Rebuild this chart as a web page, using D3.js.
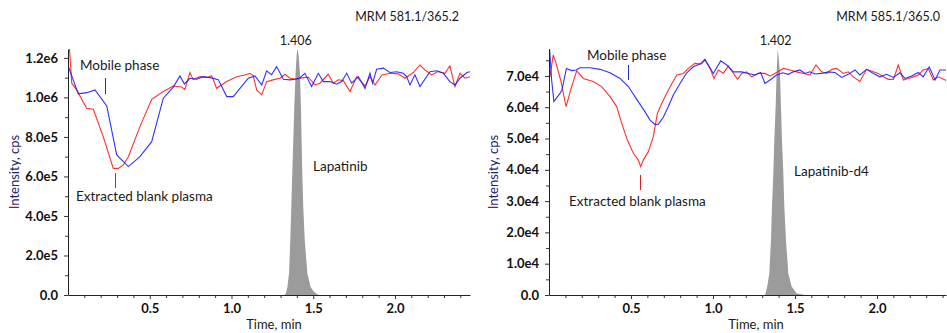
<!DOCTYPE html>
<html><head><meta charset="utf-8">
<script src="https://cdn.jsdelivr.net/npm/d3@7"></script>
<style>
body{margin:0;background:#fff;}
svg{display:block;font-family:Lato,"Open Sans",sans-serif;}
</style></head><body>
<script>
// ---------- Left panel: MRM 581.1/365.2 (Lapatinib) ----------
const leftPlasmaT = [0.005,0.023,0.053,0.114,0.155,0.216,0.277,0.308,0.338,0.369,0.44,0.512,0.583,0.644,0.695,0.715,0.746,0.766,0.807,0.848,0.879,0.909,0.971,1.032,1.08,1.113,1.133,1.154,1.185,1.215,1.26,1.297,1.327,1.358,1.399,1.44,1.47,1.511,1.541,1.592,1.623,1.653,1.684,1.725,1.766,1.817,1.847,1.878,1.92,1.969,2.02,2.061,2.112,2.153,2.183,2.224,2.265,2.306,2.336,2.367,2.398,2.428,2.459];
const leftPlasmaV = [1.30e6,1.072e6,1.038e6,0.945e6,0.94e6,0.80e6,0.641e6,0.641e6,0.658e6,0.70e6,0.852e6,0.99e6,1.03e6,1.058e6,1.053e6,1.04e6,1.126e6,1.09e6,1.105e6,1.10e6,1.11e6,1.046e6,1.08e6,1.105e6,1.113e6,1.122e6,1.11e6,1.038e6,1.013e6,1.08e6,1.09e6,1.097e6,1.117e6,1.097e6,1.092e6,1.10e6,1.102e6,1.063e6,1.072e6,1.117e6,1.072e6,1.089e6,1.085e6,1.03e6,1.105e6,1.058e6,1.105e6,1.063e6,1.114e6,1.122e6,1.119e6,1.097e6,1.126e6,1.164e6,1.139e6,1.114e6,1.131e6,1.122e6,1.16e6,1.055e6,1.122e6,1.097e6,1.105e6];
const leftMobileT = [0.005,0.032,0.063,0.114,0.165,0.237,0.298,0.369,0.44,0.512,0.583,0.644,0.685,0.712,0.746,0.787,0.828,0.869,0.919,0.971,1.011,1.052,1.103,1.144,1.185,1.215,1.245,1.276,1.317,1.358,1.388,1.419,1.449,1.49,1.531,1.562,1.602,1.643,1.674,1.705,1.735,1.776,1.817,1.847,1.863,1.888,1.929,1.969,2.01,2.051,2.071,2.092,2.122,2.153,2.214,2.255,2.296,2.336,2.367,2.398,2.44,2.459];
const leftMobileV = [1.15e6,1.089e6,1.018e6,1.024e6,1.038e6,0.957e6,0.709e6,0.65e6,0.70e6,0.776e6,0.996e6,1.052e6,1.109e6,1.068e6,1.097e6,1.092e6,1.105e6,1.10e6,1.09e6,1.004e6,1.004e6,1.046e6,1.097e6,1.109e6,1.063e6,1.134e6,1.115e6,1.156e6,1.092e6,1.089e6,1.092e6,1.10e6,1.122e6,1.055e6,1.122e6,1.08e6,1.08e6,1.067e6,1.08e6,1.122e6,1.072e6,1.105e6,1.046e6,1.122e6,1.072e6,1.143e6,1.148e6,1.126e6,1.13e6,1.122e6,1.105e6,1.063e6,1.114e6,1.055e6,1.13e6,1.135e6,1.122e6,1.08e6,1.063e6,1.097e6,1.126e6,1.13e6];
const leftPeakT = [1.325,1.334,1.342,1.352,1.360,1.366,1.372,1.378,1.384,1.392,1.399,1.405,1.412,1.419,1.425,1.429,1.433,1.439,1.448,1.464,1.484,1.50,1.521,1.535];
const leftPeakV = [0,0.01e6,0.04e6,0.11e6,0.28e6,0.45e6,0.62e6,0.78e6,0.95e6,1.12e6,1.22e6,1.25e6,1.20e6,1.12e6,0.95e6,0.78e6,0.62e6,0.45e6,0.28e6,0.11e6,0.04e6,0.02e6,0.005e6,0];
const leftYTicks = [0,2e5,4e5,6e5,8e5,1.0e6,1.2e6];
const leftYLabels = ["0.0","2.0e5","4.0e5","6.0e5","8.0e5","1.0e6","1.2e6"];

// ---------- Right panel: MRM 585.1/365.0 (Lapatinib-d4) ----------
const rightPlasmaT = [0.006,0.026,0.043,0.071,0.104,0.138,0.169,0.209,0.27,0.321,0.372,0.413,0.443,0.478,0.514,0.545,0.559,0.575,0.606,0.636,0.661,0.687,0.728,0.779,0.819,0.85,0.89,0.931,0.951,0.982,1.006,1.033,1.063,1.093,1.15,1.175,1.205,1.236,1.276,1.317,1.348,1.388,1.429,1.47,1.51,1.551,1.591,1.628,1.663,1.693,1.724,1.754,1.795,1.825,1.856,1.896,1.937,1.978,2.008,2.039,2.069,2.1,2.13,2.161,2.191,2.222,2.252,2.282,2.313,2.343,2.374,2.425];
const rightPlasmaV = [6.97e4,7.67e4,7.40e4,6.87e4,6.02e4,6.66e4,7.16e4,6.92e4,6.82e4,6.66e4,6.34e4,6.02e4,5.49e4,4.95e4,4.53e4,4.31e4,4.10e4,4.31e4,4.58e4,5.06e4,5.80e4,6.12e4,6.55e4,7.03e4,7.08e4,7.24e4,7.40e4,7.38e4,7.51e4,7.24e4,6.92e4,7.19e4,7.08e4,7.32e4,6.89e4,7.08e4,7.13e4,6.97e4,7.08e4,7.08e4,7.00e4,7.11e4,7.24e4,7.19e4,7.13e4,7.08e4,7.03e4,7.35e4,7.13e4,7.08e4,7.21e4,7.24e4,7.08e4,7.13e4,6.97e4,6.82e4,7.21e4,7.13e4,7.08e4,6.97e4,6.89e4,6.89e4,7.35e4,6.87e4,6.92e4,6.97e4,7.03e4,7.19e4,7.24e4,6.87e4,6.97e4,6.85e4];
const rightMobileT = [0.003,0.016,0.03,0.067,0.079,0.106,0.138,0.165,0.189,0.25,0.311,0.372,0.433,0.484,0.535,0.585,0.616,0.646,0.667,0.697,0.728,0.758,0.799,0.84,0.88,0.921,0.951,0.972,1.002,1.047,1.084,1.124,1.175,1.215,1.256,1.291,1.317,1.348,1.388,1.425,1.459,1.49,1.53,1.561,1.591,1.622,1.663,1.703,1.744,1.785,1.825,1.866,1.896,1.937,1.978,2.018,2.059,2.1,2.14,2.171,2.211,2.252,2.282,2.319,2.354,2.384,2.425];
const rightMobileV = [7.9e4,6.87e4,6.18e4,6.44e4,6.55e4,7.24e4,7.17e4,7.19e4,7.26e4,7.26e4,7.21e4,7.10e4,6.92e4,6.66e4,6.25e4,5.86e4,5.59e4,5.45e4,5.46e4,5.68e4,6.02e4,6.39e4,6.76e4,7.10e4,7.29e4,7.38e4,7.53e4,7.35e4,7.08e4,7.48e4,7.35e4,7.13e4,7.13e4,7.08e4,7.03e4,7.11e4,6.76e4,6.87e4,7.03e4,7.10e4,7.05e4,7.13e4,7.19e4,7.08e4,7.13e4,7.06e4,7.08e4,7.13e4,7.11e4,6.95e4,7.05e4,7.19e4,7.03e4,7.21e4,7.08e4,6.97e4,7.05e4,6.95e4,7.10e4,6.92e4,7.00e4,7.11e4,6.97e4,7.29e4,6.87e4,7.19e4,7.19e4];
const rightPeakT = [1.318,1.331,1.3435,1.3537,1.3598,1.3679,1.374,1.3821,1.3882,1.3943,1.4015,1.4085,1.4146,1.4207,1.4289,1.435,1.4451,1.4593,1.4797,1.51,1.54,1.56];
const rightPeakV = [0,0.27e4,0.69e4,1.76e4,2.82e4,3.89e4,4.95e4,6.02e4,7.08e4,7.86e4,7.55e4,7.08e4,6.02e4,4.95e4,3.89e4,2.82e4,1.76e4,0.69e4,0.27e4,0.05e4,0.02e4,0];
const rightYTicks = [0,1e4,2e4,3e4,4e4,5e4,6e4,7e4];
const rightYLabels = ["0.0","1.0e4","2.0e4","3.0e4","4.0e4","5.0e4","6.0e4","7.0e4"];

const xTicks = [0.5,1.0,1.5,2.0];
const xTickLabels = ["0.5","1.0","1.5","2.0"];
const xMinorTicks = [0.1,0.2,0.3,0.4,0.6,0.7,0.8,0.9,1.1,1.2,1.3,1.4,1.6,1.7,1.8,1.9,2.1,2.2,2.3,2.4];

const W = 947, H = 333;
const svg = d3.select("body").append("svg").attr("width", W).attr("height", H);
const TXT = "#1a1a1a";

function zip(a, b){ return a.map((d,i)=>[d,b[i]]); }

function panel(cfg){
  const top = 49, bottom = 295;
  const x = d3.scaleLinear().domain([0, cfg.xMax]).range([cfg.x0, cfg.x1]);
  const y = d3.scaleLinear().domain([0, cfg.yMax]).range([bottom, top]);
  const g = svg.append("g");
  const clipId = "clip" + cfg.id;
  svg.append("defs").append("clipPath").attr("id", clipId)
    .append("rect").attr("x", cfg.x0).attr("y", top).attr("width", cfg.x1 - cfg.x0).attr("height", bottom - top);
  const plot = g.append("g").attr("clip-path", `url(#${clipId})`);

  const peak = zip(cfg.peakT, cfg.peakV);
  plot.append("path").datum(peak)
    .attr("fill", "#9b9b9b")
    .attr("d", d3.area().x(d=>x(d[0])).y0(y(0)).y1(d=>y(d[1])));

  const line = d3.line().x(d=>x(d[0])).y(d=>y(d[1]));
  plot.append("path").datum(zip(cfg.plasmaT, cfg.plasmaV))
    .attr("fill","none").attr("stroke","#ff1a1a").attr("stroke-width",1.1).attr("stroke-opacity",0.9)
    .attr("d", line);
  plot.append("path").datum(zip(cfg.mobileT, cfg.mobileV))
    .attr("fill","none").attr("stroke","#1a1aff").attr("stroke-width",1.1).attr("stroke-opacity",0.9)
    .attr("d", line);

  // axes
  g.append("g").attr("transform", `translate(0,${bottom})`)
    .call(d3.axisBottom(x).tickValues(xTicks).tickFormat((d,i)=>xTickLabels[i]).tickSize(4).tickPadding(5).tickSizeOuter(0));
  g.append("g").attr("transform", `translate(0,${bottom})`)
    .call(d3.axisBottom(x).tickValues(xMinorTicks).tickFormat("").tickSize(3).tickSizeOuter(0))
    .select(".domain").remove();
  g.append("g").attr("transform", `translate(${cfg.x0},0)`)
    .call(d3.axisLeft(y).tickValues(cfg.yTicks).tickFormat((d,i)=>cfg.yLabels[i]).tickSize(4).tickPadding(6).tickSizeOuter(0));
  g.append("g").attr("transform", `translate(${cfg.x0},0)`)
    .call(d3.axisLeft(y).tickValues(cfg.yMinor).tickFormat("").tickSize(3).tickSizeOuter(0))
    .select(".domain").remove();
  g.selectAll(".domain").attr("stroke","#222");
  g.selectAll(".tick line").attr("stroke","#333");
  g.selectAll(".tick text").attr("font-family","Lato").attr("font-size",13).attr("font-weight","bold").attr("fill","#111");

  // titles
  g.append("text").attr("x", cfg.titleX).attr("y", 21).attr("text-anchor","end")
    .attr("font-size",12.5).attr("fill",TXT).text(cfg.title);
  // peak apex label
  const apex = peak.reduce((a,b)=>b[1]>a[1]?b:a);
  g.append("text").attr("x", x(apex[0]) - 2).attr("y", 45).attr("text-anchor","middle")
    .attr("font-size",12.5).attr("fill",TXT).text(cfg.peakLabel);
  // axis titles
  g.append("text").attr("x", cfg.xTitleX).attr("y", 329).attr("text-anchor","middle")
    .attr("font-size",13).attr("fill",TXT).text("Time, min");
  const yt = g.append("text").attr("transform", `translate(${cfg.yTitleX},172) rotate(-90)`)
    .attr("text-anchor","middle").attr("font-size",13).attr("fill","#1e1e6e");
  yt.append("tspan").attr("fill","#b01010").text("I");
  yt.append("tspan").text("ntensity, cps");

  // annotations
  cfg.notes.forEach(n=>{
    g.append("text").attr("x", n.x).attr("y", n.y).attr("font-size",13.5).attr("fill",TXT).text(n.text);
  });
  cfg.marks.forEach(m=>{
    g.append("line").attr("x1", m.x).attr("x2", m.x).attr("y1", m.y1).attr("y2", m.y2)
      .attr("stroke", m.color).attr("stroke-width",1);
  });
}

panel({
  id:"L", x0:68, x1:470, xMax:2.459, yMax:1.245e6,
  plasmaT:leftPlasmaT, plasmaV:leftPlasmaV, mobileT:leftMobileT, mobileV:leftMobileV,
  peakT:leftPeakT, peakV:leftPeakV, yTicks:leftYTicks, yLabels:leftYLabels,
  yMinor:[1e5,3e5,5e5,7e5,9e5,1.1e6],
  title:"MRM 581.1/365.2", titleX:459, peakLabel:"1.406", xTitleX:274, yTitleX:19,
  notes:[{x:80,y:70,text:"Mobile phase"},{x:76,y:201,text:"Extracted blank plasma"},{x:313,y:171,text:"Lapatinib"}],
  marks:[{x:105.5,y1:78,y2:94,color:"#2a2ad0"},{x:115.5,y1:173,y2:188,color:"#e02020"}]
});
panel({
  id:"R", x0:549, x1:946, xMax:2.421, yMax:7.86e4,
  plasmaT:rightPlasmaT, plasmaV:rightPlasmaV, mobileT:rightMobileT, mobileV:rightMobileV,
  peakT:rightPeakT, peakV:rightPeakV, yTicks:rightYTicks, yLabels:rightYLabels,
  yMinor:[0.5e4,1.5e4,2.5e4,3.5e4,4.5e4,5.5e4,6.5e4,7.5e4],
  title:"MRM 585.1/365.0", titleX:940, peakLabel:"1.402", xTitleX:756, yTitleX:498,
  notes:[{x:587,y:60,text:"Mobile phase"},{x:569,y:206,text:"Extracted blank plasma"},{x:794,y:176,text:"Lapatinib-d4"}],
  marks:[{x:628.5,y1:65,y2:80,color:"#2a2ad0"},{x:640.5,y1:175,y2:190,color:"#e02020"}]
});
</script>
</body></html>
